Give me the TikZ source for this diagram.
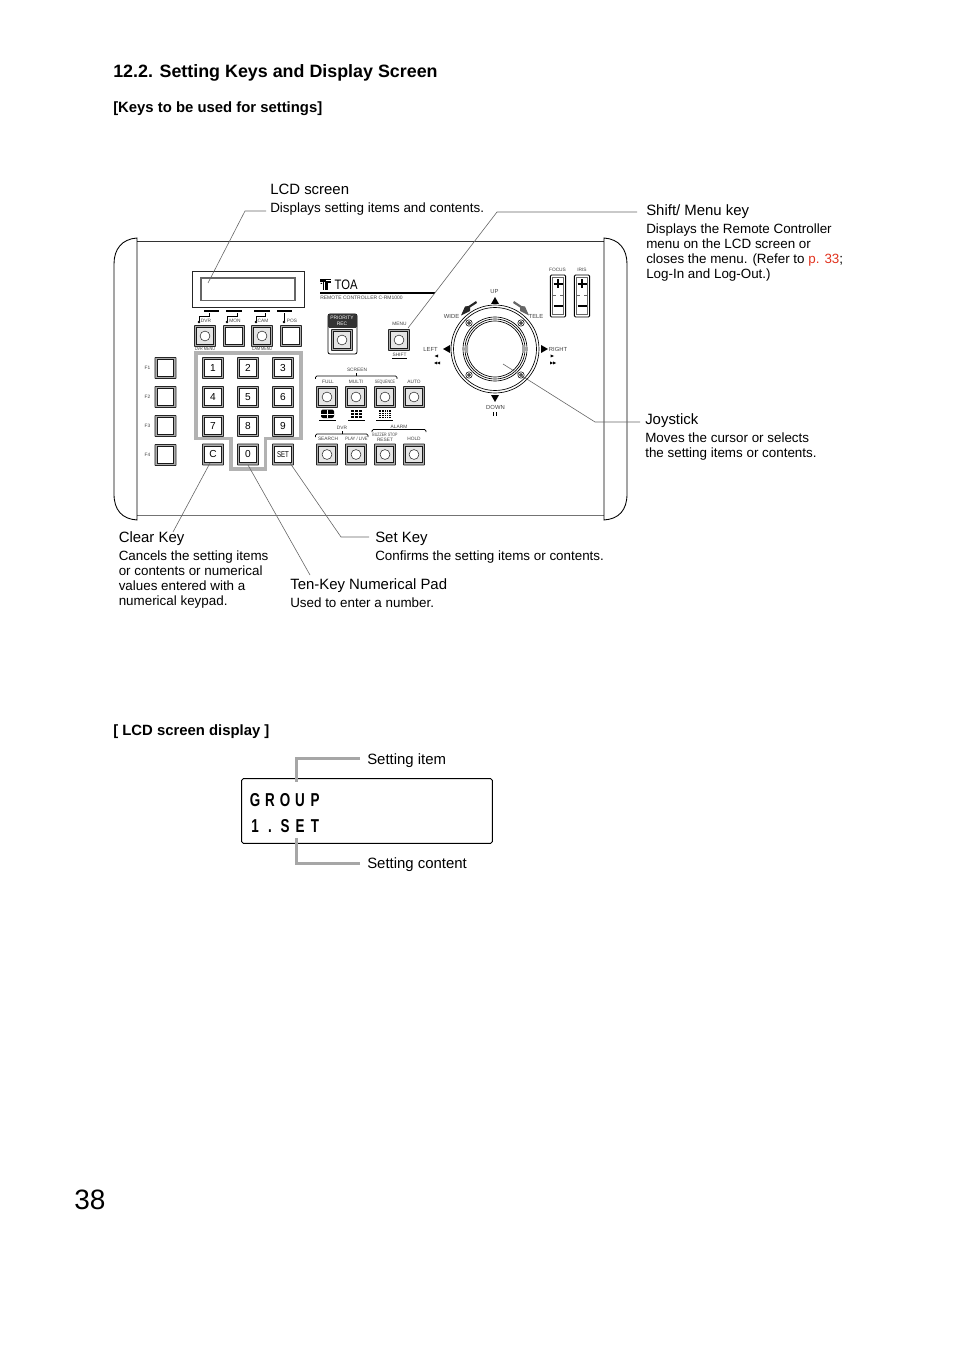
\documentclass[tikz,border=0pt]{standalone}
\usepackage{fontspec}
\setmainfont{Liberation Sans}
\newcommand{\keybtn}[4]{%
  \node[keyshape] (#1) at (#2,#3) {};
  \node[keyface] (#1in) at (#2,#3) {\fontsize{7.6}{8}\selectfont #4};
}
\newcommand{\ringkey}[3]{%
  \node[keyshape] (#1) at (#2,#3) {};
  \node[keyface,fill=black!10] (#1in) at (#2,#3) {};
  \node[ringmark] (#1ring) at (#2,#3) {};
}
\newcommand{\tinylabel}[4]{\node[tiny lab] (#1) at (#2,#3) {#4};}
\tikzset{
  keyshape/.style={draw=black!85,fill=black!32,line width=0.55pt,minimum size=15.8pt,inner sep=0pt,rounded corners=0.4pt},
  keyface/.style={draw=black!90,fill=white,line width=0.65pt,minimum size=12.2pt,inner sep=0pt},
  ringmark/.style={circle,draw=black!85,fill=white,line width=0.4pt,minimum size=7.4pt,inner sep=0pt},
  tiny lab/.style={inner sep=0pt,text=black!75,font=\fontsize{3.6}{4}\selectfont},
  joy lab/.style={inner sep=0pt,text=black!75,font=\fontsize{4.4}{5}\selectfont},
  leader/.style={draw=black!60,line width=0.45pt},
  head/.style={anchor=west,inner sep=0pt,font=\fontsize{11.2}{13}\selectfont},
  body/.style={anchor=north west,inner sep=0pt,align=left,font=\fontsize{10.05}{11.25}\selectfont},
  panel/.style={draw=black,line width=0.65pt},
  graybar/.style={draw=black!35,line width=1.9pt},
  padline/.style={draw=black!30,line width=2.3pt},
}
\definecolor{refred}{RGB}{225,50,30}
\begin{document}
\begin{tikzpicture}[x=0.75pt,y=-0.75pt]
\useasboundingbox (0,0) rectangle (954,1351);
% headings
\node[anchor=west,inner sep=0pt,font=\bfseries\fontsize{13.4}{16}\selectfont] (title) at (113,73) {12.2. Setting Keys and Display Screen};
\node[anchor=west,inner sep=0pt,font=\bfseries\fontsize{11.15}{13}\selectfont] (keys) at (113,109) {[Keys to be used for settings]};
\node[anchor=west,inner sep=0pt,font=\bfseries\fontsize{11.15}{13}\selectfont] (lcdh) at (113,732) {[ LCD screen display ]};
\node[anchor=west,inner sep=0pt,font=\fontsize{21}{24}\selectfont] (pg) at (74,1200) {38};
% controller body
\draw[panel,black!80] (137,241) -- (604,241);
\draw[panel,black!55,line width=1.1pt] (137,515.5) -- (604,515.5);
\draw[panel] (137,238) .. controls (122,239) and (114,249) .. (114,264) -- (114,494) .. controls (114,510) and (122,519) .. (137,520) -- cycle;
\draw[panel] (604,238) .. controls (619,239) and (627,249) .. (627,264) -- (627,494) .. controls (627,510) and (619,519) .. (604,520) -- cycle;
% LCD
\node[draw=black!85,fill=white,line width=0.5pt,minimum width=84pt,minimum height=27pt,inner sep=0pt] (lcdout) at (248,289) {};
\node[draw=black!60,line width=0.8pt,minimum width=70.5pt,minimum height=17.2pt,inner sep=0pt] (lcdin) at (248,289.5) {};
% top function keys
\draw[line width=1.2pt] (204,311) -- (219,311) (226,311) -- (242,311) (254,311) -- (270,311) (277,311) -- (292,311);
\draw[line width=0.4pt] (199,321) |- (209,316) -- (209,313)  (227,321) |- (237,316) -- (237,313) (256,321) |- (265,316) -- (265,313) (284,316) -- (284,321) (284,316) -- (284,313);
\fill (199,322) circle (1pt) (227,322) circle (1pt) (256,322) circle (1pt) (284,322) circle (1pt);
\tinylabel{ldvr}{206}{320.5}{DVR}
\tinylabel{lmon}{235}{320.5}{MON}
\tinylabel{lcam}{263}{320.5}{CAM}
\tinylabel{lpos}{292}{320.5}{POS}
\ringkey{dvr}{205}{336}
\keybtn{mon}{234}{336}{}
\ringkey{cam}{262}{336}
\keybtn{pos}{291}{336}{}
\node[tiny lab,xscale=0.78] (ldm) at (205,349) {DVR MENU};
\node[tiny lab,xscale=0.78] (lcm) at (262,349) {CAM MENU};
% F keys
\foreach \n/\yy in {1/368,2/397,3/426,4/455}{
  \tinylabel{lf\n}{147.5}{\yy}{F\n}
  \keybtn{f\n}{165.5}{\yy}{}
}
% ten key outline
\draw[padline] (196,353) -- (301,353) -- (301,438.5) -- (265.5,438.5) -- (265.5,469) -- (231,469) -- (231,438.5) -- (196,438.5) -- cycle;
\keybtn{k1}{213}{368}{1}
\keybtn{k2}{248}{368}{2}
\keybtn{k3}{283}{368}{3}
\keybtn{k4}{213}{397}{4}
\keybtn{k5}{248}{397}{5}
\keybtn{k6}{283}{397}{6}
\keybtn{k7}{213}{426}{7}
\keybtn{k8}{248}{426}{8}
\keybtn{k9}{283}{426}{9}
\keybtn{kc}{213}{454.5}{C}
\keybtn{k0}{248}{454.5}{0}
\node[keyshape] (kset) at (283,454.5) {};
\node[keyface] (ksetin) at (283,454.5) {\fontsize{6.4}{7}\selectfont\scalebox{0.72}[1]{SET}};
% logo
\fill (320,279) rectangle (331,290.5);
\fill[white] (320,282) rectangle (322.5,290.5);
\fill[white] (323.5,282) rectangle (324.5,290.5);
\fill[white] (326,280.5) rectangle (331,281.5);
\fill[white] (328,283) rectangle (331,290.5);
\fill (321,280) rectangle (322.5,282) (320.5,283) rectangle (322,284);
\node[anchor=west,inner sep=0pt,font=\fontsize{10.3}{12}\selectfont,xscale=0.82] (toa) at (334.5,285) {TOA};
\draw[line width=1.4pt] (320,293) -- (435,293);
\node[anchor=west,inner sep=0pt,text=black!75,font=\fontsize{3.75}{4}\selectfont] (rc) at (320,298) {REMOTE CONTROLLER C-RM1000};
% priority rec
\draw[rounded corners=1.5pt,line width=0.6pt] (328,314) rectangle (357,354);
\fill[black!80,rounded corners=1pt] (328,314) rectangle (357,328);
\node[text=white,inner sep=0pt,align=center,font=\fontsize{3.7}{4.3}\selectfont] (prilab) at (342,321) {PRIORITY\\REC};
\ringkey{pri}{342}{340}
% menu
\tinylabel{lmenu}{399.5}{324}{MENU}
\ringkey{menu}{399}{340}
\tinylabel{lshift}{399.5}{355}{SHIFT}
\draw[line width=0.8pt] (392,358.5) -- (407,358.5);
% screen
\tinylabel{lscreen}{357}{369.5}{SCREEN}
\draw[line width=0.45pt,rounded corners=1pt] (315.5,379) -- (315.5,376) -- (397,376) -- (397,379);
\draw[line width=0.45pt] (356.5,376) -- (356.5,373);
\tinylabel{lfull}{328}{382}{FULL}
\tinylabel{lmulti}{356}{382}{MULTI}
\node[tiny lab,xscale=0.75] (lseq) at (385,382) {SEQUENCE};
\tinylabel{lauto}{414}{382}{AUTO}
\ringkey{full}{327}{397}
\ringkey{multi}{356}{397}
\ringkey{seq}{385}{397}
\ringkey{auto}{414}{397}
% screen pictograms
\fill[rounded corners=1.5pt] (321,409.5) rectangle (334,418);
\draw[white,line width=0.5pt] (327.5,409.5) -- (327.5,418) (321,414) -- (334,414);
\draw[line width=1.2pt] (319,420.5) -- (336,420.5);
\fill (351,410) rectangle (362,418);
\draw[white,line width=0.4pt] (354.7,410) -- (354.7,418) (358.4,410) -- (358.4,418) (351,412.7) -- (362,412.7) (351,415.4) -- (362,415.4);
\draw[line width=1.2pt] (348,420.5) -- (365,420.5);
\fill (379,410) rectangle (391,418);
\draw[white,line width=0.35pt] (381.4,410) -- (381.4,418) (383.8,410) -- (383.8,418) (386.2,410) -- (386.2,418) (388.6,410) -- (388.6,418) (379,412) -- (391,412) (379,414) -- (391,414) (379,416) -- (391,416);
\draw[line width=1.2pt] (376,420.5) -- (393,420.5);
% DVR / alarm
\tinylabel{ldvrg}{342}{427.5}{DVR}
\draw[line width=0.45pt,rounded corners=1pt] (315.5,437) -- (315.5,434) -- (368,434) -- (368,437);
\draw[line width=0.45pt] (342,434) -- (342,431);
\tinylabel{lalarm}{399}{427}{ALARM}
\draw[line width=0.45pt,rounded corners=1pt] (372,432) -- (372,429.5) -- (426,429.5) -- (426,432);
\node[tiny lab,xscale=0.75] (lbuz) at (385,434.5) {BUZZER STOP};
\tinylabel{lsearch}{328}{439}{SEARCH}
\node[tiny lab,xscale=0.85] (lplay) at (356.5,439) {PLAY / LIVE};
\tinylabel{lreset}{385}{440}{RESET}
\tinylabel{lhold}{414}{439}{HOLD}
\ringkey{search}{327}{454.5}
\ringkey{play}{356}{454.5}
\ringkey{reset}{385}{454.5}
\ringkey{hold}{414}{454.5}
% joystick
\coordinate (joyc) at (495,349);
\draw[line width=0.5pt,fill=white] (joyc) circle (44);
\draw[line width=0.5pt] (joyc) circle (41.5);
\draw[line width=0.5pt] (joyc) circle (32);
\draw[line width=0.5pt] (joyc) circle (30);
\draw[line width=0.5pt] (joyc) circle (28);
\fill[black!35] (465.5,345) rectangle (468,353) (522,345) rectangle (524.5,353);
\foreach \sx/\sy in {469/323,521/323,469/375,521/375}{
  \draw[line width=0.4pt,fill=white] (\sx,\sy) circle (3.2);
  \draw[line width=0.4pt,fill=black!45] (\sx,\sy) circle (1.5);
}
% arrows
\fill (495,297) -- (499,304) -- (491,304) -- cycle;
\fill (495,402) -- (499,395) -- (491,395) -- cycle;
\fill (443,349) -- (450,345) -- (450,353) -- cycle;
\fill (548,349) -- (541,345) -- (541,353) -- cycle;
\node[joy lab] (lup) at (494.5,292) {UP};
\node[joy lab] (lwide) at (451.5,316) {WIDE};
\node[joy lab] (ltele) at (536,316) {TELE};
\node[joy lab] (lleft) at (430.5,349) {LEFT};
\node[joy lab] (lright) at (558,349) {RIGHT};
\node[joy lab] (ldown) at (495.5,407) {DOWN};
\draw[line width=0.6pt] (493.7,412) -- (493.7,416) (496.3,412) -- (496.3,416);
\fill (434.5,356) -- (438,354.5) -- (438,357.5) -- cycle;
\fill (434,363) -- (437,361.5) -- (437,364.5) -- cycle (437,363) -- (440,361.5) -- (440,364.5) -- cycle;
\fill (554,356) -- (550.5,354.5) -- (550.5,357.5) -- cycle;
\fill (553,363) -- (550,361.5) -- (550,364.5) -- cycle (556,363) -- (553,361.5) -- (553,364.5) -- cycle;
\fill[black!85] (476,301) -- (477,303) -- (470,307.5) -- (470,311) -- (461,315.5) -- (465,306.5) -- (468.5,306) -- cycle;
\fill[black!60] (514,301) -- (513,303) -- (520,307.5) -- (520,311) -- (529,315.5) -- (525,306.5) -- (521.5,306) -- cycle;
% focus iris
\tinylabel{lfocus}{557.5}{270}{FOCUS}
\tinylabel{liris}{582}{270}{IRIS}
\foreach \xx/\nm in {558/focus,582/iris}{
  \node[draw=black,line width=0.65pt,minimum width=11.4pt,minimum height=31.5pt,rounded corners=0.8pt,inner sep=0pt] (\nm) at (\xx,296) {};
  \draw[black!60,line width=0.35pt] (\xx-5.6,277.5) rectangle (\xx+5.6,314.5);
  \draw[line width=0.8pt] (\xx-4.5,284) -- (\xx+4.5,284) (\xx,279.5) -- (\xx,288.5) (\xx-4.5,306) -- (\xx+4.5,306);
  \draw[line width=0.35pt,black!60,dashed] (\xx-6,295) -- (\xx+6,295);
}
% leader anchors
\coordinate (a1) at (208,283);
\coordinate (a2) at (245,211);
\coordinate (a3) at (266,211);
\draw[leader] (a1) -- (a2) -- (a3);
\coordinate (s1) at (408,328);
\coordinate (s2) at (497,212);
\coordinate (s3) at (637,212);
\draw[leader] (s1) -- (s2) -- (s3);
\coordinate (j1) at (503,364);
\coordinate (j2) at (595,422);
\coordinate (j3) at (640,422);
\draw[leader] (j1) -- (j2) -- (j3);
\coordinate (c0) at (210,463);
\coordinate (c1) at (173,532);
\draw[leader] (c0) -- (c1);
\coordinate (t0) at (248,465);
\coordinate (t1) at (310,575);
\draw[leader] (t0) -- (t1);
\coordinate (st0) at (290,463);
\coordinate (st1) at (341,537);
\coordinate (st2) at (369,537);
\draw[leader] (st0) -- (st1) -- (st2);
% captions
\node[head] (h1) at (270,189.5) {LCD screen};
\node[body] (b1) at (270,202.5) {Displays setting items and contents.};
\node[head] (h2) at (646,212) {Shift/ Menu key};
\node[body] (b2) at (646,223.5) {Displays the Remote Controller\\menu on the LCD screen or\\closes the menu. (Refer to \textcolor{refred}{p. 33};\\Log-In and Log-Out.)};
\node[head] (h3) at (645,421) {Joystick};
\node[body] (b3) at (645,432.5) {Moves the cursor or selects\\the setting items or contents.};
\node[head] (h4) at (118.5,539) {Clear Key};
\node[body] (b4) at (118.5,550.5) {Cancels the setting items\\or contents or numerical\\values entered with a\\numerical keypad.};
\node[head] (h5) at (375,539) {Set Key};
\node[body] (b5) at (375,550.5) {Confirms the setting items or contents.};
\node[head] (h6) at (290,586) {Ten-Key Numerical Pad};
\node[body] (b6) at (290,597.5) {Used to enter a number.};
% LCD display
\node[draw=black,line width=0.65pt,rounded corners=1.2pt,minimum width=188pt,minimum height=48.5pt,inner sep=0pt] (disp) at (367,811) {};
\coordinate (i1) at (360,758.5);
\coordinate (i2) at (296.5,758.5);
\coordinate (i3) at (296.5,782);
\draw[graybar] (i1) -- (i2) -- (i3);
\coordinate (n1) at (360,863.5);
\coordinate (n2) at (296.5,863.5);
\coordinate (n3) at (296.5,838);
\draw[graybar] (n1) -- (n2) -- (n3);
\node[head] (si) at (367,761) {Setting item};
\node[head] (sc) at (367,865) {Setting content};
\foreach \ch/\xx/\yy in {G/255/806,R/270/806,O/285/806,U/300/806,P/315/806,1/255/832,./270/832,S/285/832,E/300/832,T/315/832}{
  \node[anchor=base,inner sep=0pt,font=\bfseries\fontsize{14}{15}\selectfont,xscale=0.72] at (\xx,\yy) {\ch};
}
\end{tikzpicture}
\end{document}
